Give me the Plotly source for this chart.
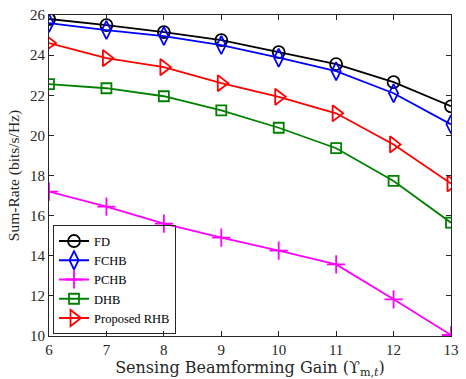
import plotly.graph_objects as go

gain = [6, 7, 8, 9, 10, 11, 12, 13]
fd = [25.8, 25.5, 25.15, 24.75, 24.15, 23.55, 22.65, 21.45]
fchb = [25.6, 25.25, 24.95, 24.5, 23.87, 23.2, 22.1, 20.55]
pchb = [17.2, 16.45, 15.6, 14.9, 14.26, 13.57, 11.83, 10.05]
dhb = [22.55, 22.35, 21.95, 21.25, 20.38, 19.36, 17.73, 15.65]
rhb = [24.6, 23.85, 23.4, 22.6, 21.92, 21.1, 19.55, 17.6]

names = ["FD", "FCHB", "PCHB", "DHB", "Proposed RHB"]
series = [fd, fchb, pchb, dhb, rhb]
colors = ["#000000", "#0000ff", "#ff00ff", "#008000", "#ff0000"]
symbols = ["circle-open", "diamond-tall-open", "cross-thin-open", "square-open", "triangle-right-open"]
sizes = [12, 13, 13, 10, 14]

fig = go.Figure()
for n, s, c, sym, sz in zip(names, series, colors, symbols, sizes):
    fig.add_trace(go.Scatter(
        x=gain, y=s, name=n, mode="lines+markers",
        line=dict(color=c, width=1.8),
        marker=dict(symbol=sym, size=sz, color=c, line=dict(color=c, width=1.8)),
    ))

font = "Liberation Serif, Times New Roman, serif"
axis_common = dict(
    showgrid=False, zeroline=False, mirror="ticks", ticks="inside",
    ticklen=5, tickcolor="#262626", linecolor="#262626", linewidth=1,
    showline=True, tickfont=dict(family=font, size=15, color="#262626"),
)
fig.update_layout(
    width=466, height=379,
    margin=dict(l=49, r=7, t=13, b=43),
    paper_bgcolor="white", plot_bgcolor="white",
    font=dict(family=font, color="#262626"),
    showlegend=True,
    legend=dict(
        x=0.01, y=0.005, xanchor="left", yanchor="bottom",
        bgcolor="rgba(255,255,255,0)", bordercolor="#262626", borderwidth=1,
        font=dict(family=font, size=12.5, color="#000000"),
        tracegroupgap=0, itemwidth=30,
    ),
)
fig.update_xaxes(
    range=[6, 13], dtick=1, tick0=6,
    title=dict(text="Sensing Beamforming Gain (ϒ<sub>m,<i>t</i></sub>)",
               font=dict(family="DejaVu Serif, serif", size=16), standoff=2),
    **axis_common,
)
fig.update_yaxes(
    range=[10, 26], dtick=2, tick0=10,
    title=dict(text="Sum-Rate (bits/s/Hz)", font=dict(family=font, size=15.5), standoff=6),
    **axis_common,
)
fig.write_html("out.html")
